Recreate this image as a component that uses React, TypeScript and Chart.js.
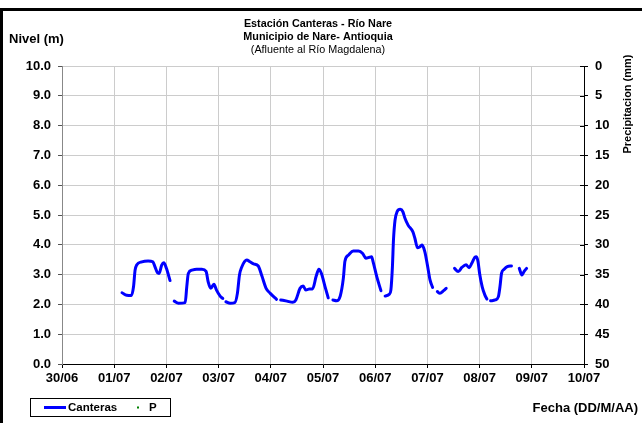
import React, { useEffect, useRef } from "react";
import { Chart, registerables } from "chart.js";

Chart.register(...registerables);

// Etiquetas del eje X (días desde 30/06)
const etiquetasFecha = ["30/06", "01/07", "02/07", "03/07", "04/07", "05/07", "06/07", "07/07", "08/07", "09/07", "10/07"];

// Tiempo en días desde 30/06 00:00 (null en nivel = sin dato)
const dias = [
  1.15, 1.24, 1.33, 1.37, 1.40, 1.43, 1.53, 1.65, 1.74, 1.78, 1.83, 1.86, 1.91, 1.95, 2.00, 2.07,
  2.11,
  2.15, 2.23, 2.36, 2.39, 2.42, 2.49, 2.58, 2.68, 2.76, 2.80, 2.85, 2.91, 2.96, 3.03, 3.08,
  3.11,
  3.14, 3.22, 3.31, 3.36, 3.40, 3.44, 3.54, 3.60, 3.67, 3.76, 3.83, 3.91, 3.99, 4.11,
  4.15,
  4.19, 4.31, 4.42, 4.48, 4.56, 4.62, 4.67, 4.74, 4.80, 4.87, 4.92, 4.97, 5.04, 5.10,
  5.14,
  5.19, 5.26, 5.33, 5.39, 5.42, 5.49, 5.58, 5.68, 5.76, 5.82, 5.89, 5.93, 5.96, 6.03, 6.11,
  6.15,
  6.19, 6.27, 6.30, 6.33, 6.35, 6.38, 6.42, 6.48, 6.53, 6.57, 6.63, 6.72, 6.76, 6.81, 6.86, 6.90, 6.95, 7.00, 7.05, 7.10,
  7.15,
  7.19, 7.24, 7.31, 7.36,
  7.45,
  7.52, 7.59, 7.66, 7.74, 7.80, 7.85, 7.91, 7.94, 7.97, 8.00, 8.05, 8.10, 8.14,
  8.17,
  8.21, 8.30, 8.36, 8.39, 8.42, 8.47, 8.53, 8.61,
  8.68,
  8.76, 8.81, 8.85, 8.90,
];

const nivelCanteras: (number | null)[] = [
  2.39, 2.31, 2.30, 2.59, 3.15, 3.32, 3.43, 3.46, 3.43, 3.27, 3.06, 3.04, 3.32, 3.40, 3.21, 2.80,
  null,
  2.11, 2.04, 2.06, 2.59, 3.04, 3.15, 3.18, 3.18, 3.11, 2.76, 2.54, 2.68, 2.48, 2.28, 2.20,
  null,
  2.09, 2.04, 2.06, 2.37, 2.99, 3.24, 3.49, 3.43, 3.36, 3.29, 2.95, 2.54, 2.37, 2.17,
  null,
  2.15, 2.11, 2.07, 2.15, 2.54, 2.62, 2.48, 2.52, 2.52, 2.95, 3.18, 3.04, 2.59, 2.22,
  null,
  2.15, 2.12, 2.28, 2.88, 3.45, 3.66, 3.79, 3.79, 3.71, 3.55, 3.58, 3.60, 3.43, 2.93, 2.46,
  null,
  2.28, 2.34, 2.48, 3.27, 4.16, 4.83, 5.11, 5.19, 5.11, 4.89, 4.66, 4.44, 4.22, 3.90, 3.94, 3.99, 3.77, 3.32, 2.82, 2.57,
  null,
  2.43, 2.37, 2.46, 2.54,
  null,
  3.21, 3.10, 3.24, 3.33, 3.23, 3.38, 3.58, 3.60, 3.43, 3.04, 2.59, 2.32, 2.18,
  null,
  2.12, 2.15, 2.26, 2.59, 3.04, 3.18, 3.27, 3.29,
  null,
  3.21, 2.99, 3.10, 3.21,
];

// Precipitación (mm): sin registros en el periodo
const diasP: number[] = [];
const precipitacion: number[] = [];

const FONT = '"Liberation Sans", Arial, sans-serif';

const extrasPlugin = {
  id: "extras",
  afterDraw(chart: any) {
    const ctx = chart.ctx as CanvasRenderingContext2D;
    const y2 = chart.scales.y2;
    ctx.save();
    // inner tick marks on right axis
    ctx.strokeStyle = "#000";
    ctx.lineWidth = 1;
    y2.ticks.forEach((t: any) => {
      const py = Math.round(y2.getPixelForValue(t.value)) + 0.5;
      ctx.beginPath();
      ctx.moveTo(y2.left - 4, py);
      ctx.lineTo(y2.left, py);
      ctx.stroke();
    });
    ctx.fillStyle = "#000";
    ctx.font = `bold 13px ${FONT}`;
    ctx.textBaseline = "middle";
    ctx.textAlign = "left";
    ctx.fillText("Nivel (m)", 9, 39);
    ctx.textAlign = "right";
    ctx.fillText("Fecha (DD/M/AA)", 638, 408);
    ctx.save();
    ctx.translate(628, 104);
    ctx.rotate(-Math.PI / 2);
    ctx.textAlign = "center";
    ctx.font = `bold 11px ${FONT}`;
    ctx.fillText("Precipitacion (mm)", 0, 0);
    ctx.restore();
    // legend
    const lx = 30, ly = 398, lw = 140, lh = 18;
    ctx.strokeStyle = "#000";
    ctx.lineWidth = 1;
    ctx.strokeRect(lx + 0.5, ly + 0.5, lw, lh);
    const cy = ly + lh / 2 + 0.5;
    ctx.strokeStyle = "#0000ff";
    ctx.lineWidth = 3;
    ctx.beginPath();
    ctx.moveTo(lx + 14, cy);
    ctx.lineTo(lx + 36, cy);
    ctx.stroke();
    ctx.font = `bold 11.5px ${FONT}`;
    ctx.textAlign = "left";
    ctx.fillText(chart.data.datasets[0].label, lx + 38, cy);
    ctx.fillStyle = "#008000";
    ctx.fillRect(lx + 107, cy - 1, 2, 2);
    ctx.fillStyle = "#000";
    ctx.fillText(chart.data.datasets[1].label, lx + 119, cy);
    ctx.restore();
  },
};

export default function App() {
  const ref = useRef<HTMLCanvasElement | null>(null);
  useEffect(() => {
    if (!ref.current) return;
    const tickFont = { family: FONT, size: 13, weight: "bold" };
    const chart = new Chart(ref.current, {
      type: "line",
      data: {
        datasets: [
          {
            label: "Canteras",
            data: dias.map((d, i) => ({ x: d, y: nivelCanteras[i] })),
            borderColor: "#0000ff",
            backgroundColor: "#0000ff",
            borderWidth: 3,
            pointRadius: 0,
            spanGaps: false,
            cubicInterpolationMode: "monotone",
            borderCapStyle: "round",
            borderJoinStyle: "round",
            yAxisID: "y",
          },
          {
            label: "P",
            data: diasP.map((d, i) => ({ x: d, y: precipitacion[i] })),
            borderColor: "#008000",
            backgroundColor: "#008000",
            showLine: false,
            pointStyle: "rect",
            pointRadius: 1,
            yAxisID: "y2",
          },
        ],
      },
      options: {
        animation: false,
        responsive: false,
        layout: { padding: { top: 17.5, left: 0, right: 6, bottom: 0 } },
        plugins: {
          legend: { display: false },
          tooltip: { enabled: false },
          title: {
            display: true,
            text: ["Estación Canteras - Río Nare", "Municipio de Nare- Antioquia"],
            color: "#000",
            font: { family: FONT, size: 10.8, weight: "bold", lineHeight: 13 / 10.8 },
            padding: { top: 0, bottom: 0 },
          },
          subtitle: {
            display: true,
            text: "(Afluente al Río Magdalena)",
            color: "#000",
            font: { family: FONT, size: 10.8, weight: "normal", lineHeight: 13 / 10.8 },
            padding: { top: 0, bottom: 9.5 },
          },
        },
        scales: {
          x: {
            type: "linear",
            min: 0,
            max: 10,
            afterFit: (s: any) => { s.height = 59; },
            ticks: {
              stepSize: 1,
              autoSkip: false,
              maxRotation: 0,
              padding: 3,
              color: "#000",
              font: tickFont,
              callback: (v: any) => etiquetasFecha[Math.round(Number(v))] ?? "",
            },
            grid: { color: "#cccccc", tickColor: "#000", tickLength: 4 },
            border: { color: "#000" },
          },
          y: {
            position: "left",
            min: 0,
            max: 10,
            afterFit: (s: any) => { s.width = 62; },
            ticks: {
              stepSize: 1,
              padding: 7,
              color: "#000",
              font: tickFont,
              callback: (v: any) => Number(v).toFixed(1),
            },
            grid: { color: "#cccccc", tickColor: "#555", tickLength: 4 },
            border: { color: "#888" },
          },
          y2: {
            position: "right",
            min: 0,
            max: 50,
            reverse: true,
            afterFit: (s: any) => { s.width = 52; },
            ticks: {
              stepSize: 5,
              padding: 7,
              color: "#000",
              font: tickFont,
            },
            grid: { drawOnChartArea: false, tickColor: "#000", tickLength: 4 },
            border: { color: "#000" },
          },
        },
      },
      plugins: [extrasPlugin],
    } as any);
    return () => chart.destroy();
  }, []);

  return (
    <div style={{ position: "fixed", left: 0, top: 0, width: 642, height: 423, overflow: "hidden", background: "#fff" }}>
      <div style={{ position: "absolute", left: 0, top: 8, width: 700, height: 500, border: "3px solid #000", boxSizing: "border-box" }} />
      <canvas ref={ref} width={642} height={423} style={{ position: "absolute", left: 0, top: 0 }} />
    </div>
  );
}
